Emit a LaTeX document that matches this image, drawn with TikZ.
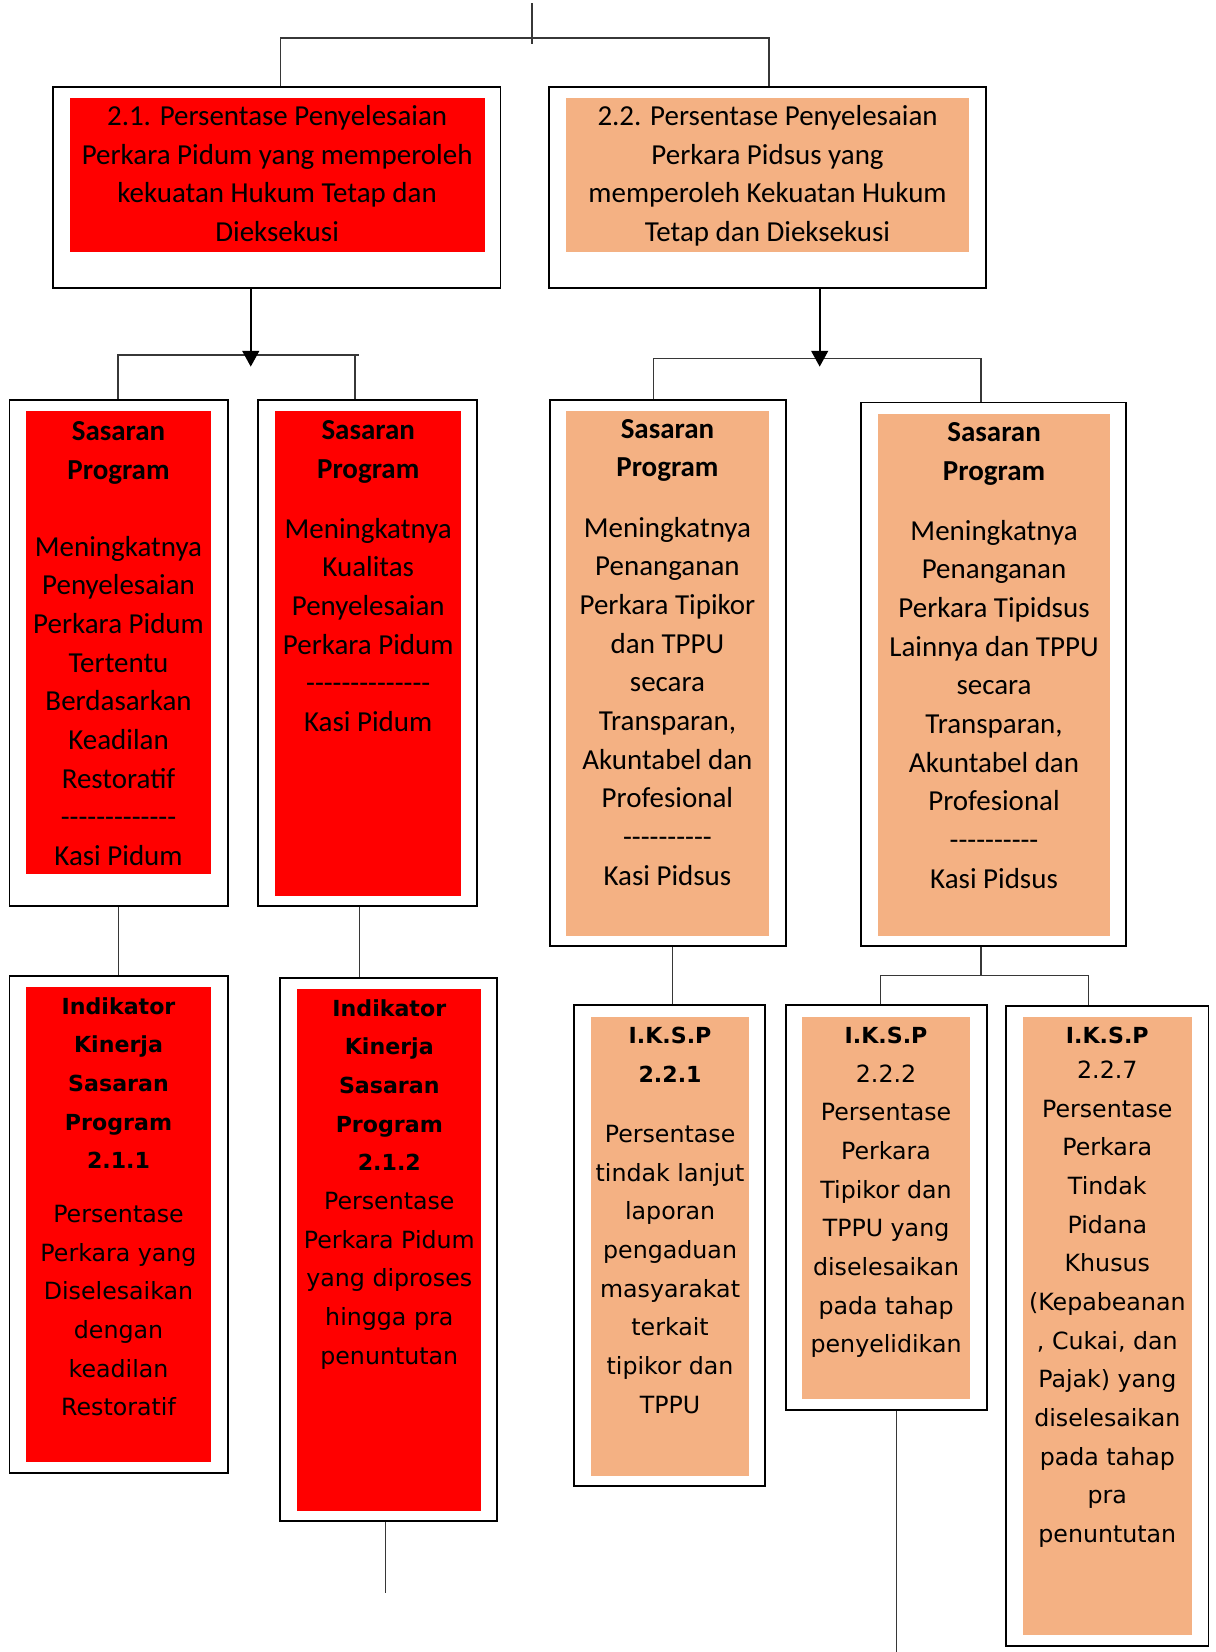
\documentclass[tikz,border=0pt]{standalone}
\usepackage{fontspec}
\setmainfont{Carlito}
\newfontfamily\ikfont{DejaVu Sans}
\usetikzlibrary{arrows.meta,fit}
\definecolor{pidumred}{RGB}{255,0,0}
\definecolor{pidsusor}{RGB}{244,177,131}
\definecolor{conncol}{RGB}{55,55,55}
\newcommand\topfont{\fontsize{27.5}{36.7}\selectfont}
\newcommand\ikf{\ikfont\fontsize{22.5}{36.7}\selectfont}
\newcommand\ikb[1]{{\fontsize{21}{36.7}\selectfont\bfseries #1}}
\newcommand\hh{-\kern0pt}
\tikzset{
  outerbox/.style={draw=black, line width=1.8pt, inner sep=0pt, fill=white},
  redfill/.style={fill=pidumred, draw=none, inner sep=0pt},
  orangefill/.style={fill=pidsusor, draw=none, inner sep=0pt},
  connline/.style={draw=conncol, line width=1.3pt},
  arrowline/.style={draw=black, line width=1.7pt, -{Triangle[length=15pt,width=16pt]}},
  txt/.style={anchor=base, inner sep=0pt, outer sep=0pt}
}
\begin{document}
\begin{tikzpicture}[x=1pt,y=-1pt]
\useasboundingbox (0,0) rectangle (1154,1568);
\fill[white] (0,0) rectangle (1154,1568);

% ---------- top level ----------
\node[outerbox, fit={(50,83) (475,273)}] (b21o) {};
\node[redfill, fit={(66,93) (460,239)}] (b21i) {};
\node[txt] (b21t) at (263,119) {\parbox[t]{420pt}{\topfont\centering 2.1. Persentase Penyelesaian\\Perkara Pidum yang memperoleh\\kekuatan Hukum Tetap dan\\Dieksekusi}};

\node[outerbox, fit={(521,83) (936,273)}] (b22o) {};
\node[orangefill, fit={(537,93) (920,239)}] (b22i) {};
\node[txt] (b22t) at (728.5,119) {\parbox[t]{420pt}{\topfont\centering 2.2. Persentase Penyelesaian\\Perkara Pidsus yang\\memperoleh Kekuatan Hukum\\Tetap dan Dieksekusi}};

% ---------- sasaran program ----------
\node[outerbox, fit={(9,380) (216,860)}] (s1o) {};
\node[redfill, fit={(25,390) (200,830)}] (s1i) {};
\node[txt] (s1t) at (112.5,418) {\parbox[t]{200pt}{\topfont\centering\textbf{Sasaran}\\\textbf{Program}\\[36.5pt]Meningkatnya\\Penyelesaian\\Perkara Pidum\\Tertentu\\Berdasarkan\\Keadilan\\Restoratif\\\hh\hh\hh\hh\hh\hh\hh\hh\hh\hh\hh\hh\hh\\Kasi Pidum}};

\node[outerbox, fit={(245,380) (453,860)}] (s2o) {};
\node[redfill, fit={(261,390) (438,850)}] (s2i) {};
\node[txt] (s2t) at (349.5,417) {\parbox[t]{200pt}{\topfont\centering\textbf{Sasaran}\\\textbf{Program}\\[20.4pt]Meningkatnya\\Kualitas\\Penyelesaian\\Perkara Pidum\\\hh\hh\hh\hh\hh\hh\hh\hh\hh\hh\hh\hh\hh\hh\\Kasi Pidum}};

\node[outerbox, fit={(522,380) (746,898)}] (s3o) {};
\node[orangefill, fit={(537,390) (730,888)}] (s3i) {};
\node[txt] (s3t) at (633.5,416) {\parbox[t]{220pt}{\topfont\centering\textbf{Sasaran}\\\textbf{Program}\\[20.4pt]Meningkatnya\\Penanganan\\Perkara Tipikor\\dan TPPU\\secara\\Transparan,\\Akuntabel dan\\Profesional\\\hh\hh\hh\hh\hh\hh\hh\hh\hh\hh\\Kasi Pidsus}};

\node[outerbox, fit={(817,382) (1069,898)}] (s4o) {};
\node[orangefill, fit={(833,393) (1054,888)}] (s4i) {};
\node[txt] (s4t) at (943.5,419) {\parbox[t]{240pt}{\topfont\centering\textbf{Sasaran}\\\textbf{Program}\\[20.4pt]Meningkatnya\\Penanganan\\Perkara Tipidsus\\Lainnya dan TPPU\\secara\\Transparan,\\Akuntabel dan\\Profesional\\\hh\hh\hh\hh\hh\hh\hh\hh\hh\hh\\Kasi Pidsus}};

% ---------- indikator ----------
\node[outerbox, fit={(9,926) (216,1398)}] (i1o) {};
\node[redfill, fit={(25,937) (200,1388)}] (i1i) {};
\node[txt] (i1t) at (112.5,962.5) {\parbox[t]{200pt}{\ikf\centering\ikb{Indikator}\\\ikb{Kinerja}\\\ikb{Sasaran}\\\ikb{Program}\\\ikb{2.1.1}\\[14.4pt]Persentase\\Perkara yang\\Diselesaikan\\dengan\\keadilan\\Restoratif}};

\node[outerbox, fit={(266,928) (472,1444)}] (i2o) {};
\node[redfill, fit={(282,939) (457,1434)}] (i2i) {};
\node[txt] (i2t) at (369.5,964.5) {\parbox[t]{200pt}{\ikf\centering\ikb{Indikator}\\\ikb{Kinerja}\\\ikb{Sasaran}\\\ikb{Program}\\\ikb{2.1.2}\\Persentase\\Perkara Pidum\\yang diproses\\hingga pra\\penuntutan}};

\node[outerbox, fit={(545,954) (726,1410)}] (i3o) {};
\node[orangefill, fit={(561,965) (711,1401)}] (i3i) {};
\node[txt] (i3t) at (636,990.5) {\parbox[t]{200pt}{\ikf\centering\ikb{I.K.S.P}\\\ikb{2.2.1}\\[20.4pt]Persentase\\tindak lanjut\\laporan\\pengaduan\\masyarakat\\terkait\\tipikor dan\\TPPU}};

\node[outerbox, fit={(746,954) (937,1338)}] (i4o) {};
\node[orangefill, fit={(761,965) (921,1328)}] (i4i) {};
\node[txt] (i4t) at (841,990.5) {\parbox[t]{200pt}{\ikf\centering\ikb{I.K.S.P}\\2.2.2\\Persentase\\Perkara\\Tipikor dan\\TPPU yang\\diselesaikan\\pada tahap\\penyelidikan}};

\node[outerbox, fit={(955,955) (1147,1562)}] (i5o) {};
\node[orangefill, fit={(971,965) (1131,1552)}] (i5i) {};
\node[txt] (i5t) at (1051,990.5) {\parbox[t]{200pt}{\ikf\centering\ikb{I.K.S.P}\\[-3.5pt]2.2.7\\Persentase\\Perkara\\Tindak\\Pidana\\Khusus\\(Kepabeanan\\, Cukai, dan\\Pajak) yang\\diselesaikan\\pada tahap\\pra\\penuntutan}};

% ---------- connectors ----------
\coordinate (topend) at (505,3);
\coordinate (topcross) at (505,42);
\draw[connline] (topend) -- (topcross);
\coordinate (jA) at (266,36);
\coordinate (jB) at (730,36);
\draw[connline] (b21o.north -| jA) -- (jA) -- (jB) -- (b22o.north -| jB);

\coordinate (pL) at (112,337);
\coordinate (pR) at (341,337);
\coordinate (pM) at (337,337);
\draw[connline] (s1o.north -| pL) -- (pL) -- (pR);
\draw[connline] (pM) -- (s2o.north -| pM);

\coordinate (qL) at (620,340);
\coordinate (qR) at (931,340);
\draw[connline] (s3o.north -| qL) -- (qL) -- (qR) -- (s4o.north -| qR);

\coordinate (aA) at (238,348);
\draw[arrowline] (b21o.south -| aA) -- (aA);
\coordinate (aB) at (778,348);
\draw[arrowline] (b22o.south -| aB) -- (aB);

\draw[connline] (s1o.south) -- (i1o.north);
\coordinate (c2) at (341,900);
\draw[connline] (s2o.south -| c2) -- (i2o.north -| c2);
\coordinate (e2) at (366,1512);
\draw[connline] (i2o.south -| e2) -- (e2);
\coordinate (c3) at (638,920);
\draw[connline] (s3o.south -| c3) -- (i3o.north -| c3);

\coordinate (d0) at (931,926);
\coordinate (dL) at (836,926);
\coordinate (dR) at (1033,926);
\draw[connline] (s4o.south -| d0) -- (d0);
\draw[connline] (i4o.north -| dL) -- (dL) -- (dR) -- (i5o.north -| dR);
\coordinate (e4) at (851,1568);
\draw[connline] (i4o.south -| e4) -- (e4);
\end{tikzpicture}
\end{document}
